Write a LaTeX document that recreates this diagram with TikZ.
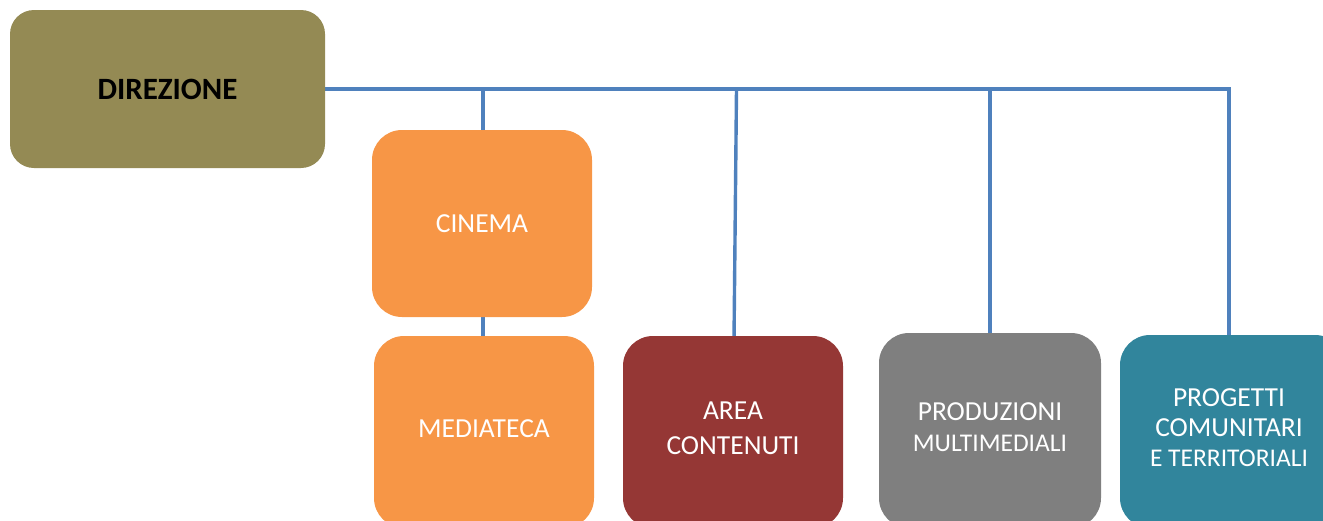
\documentclass[tikz,border=0pt]{standalone}
\usepackage{fontspec}
\setmainfont{Carlito}
\definecolor{olive}{HTML}{948A54}
\definecolor{orng}{HTML}{F79646}
\definecolor{dred}{HTML}{953735}
\definecolor{gry}{HTML}{7F7F7F}
\definecolor{teal2}{HTML}{31859C}
\definecolor{lineblue}{HTML}{4F81BD}
\begin{document}
\begin{tikzpicture}[x=1pt,y=-1pt,
  box/.style={draw=none, text=white, align=center, font=\fontsize{27.5}{32}\selectfont},
  conn/.style={draw=lineblue, line width=3.4pt}]
\useasboundingbox (0,0) rectangle (1323,520);
\clip (0,0) rectangle (1323,520);
% connectors first
\coordinate (hl) at (1229,89);
\draw[conn] (325,89) -- (hl) -- (1229,340);
\draw[conn] (483,89) -- (483,340);
\draw[conn] (736.5,89) -- (734,340);
\draw[conn] (990,89) -- (990,340);
% boxes
\fill[olive, rounded corners=24pt] (10,10) rectangle (325,168);
\node[font=\fontsize{31}{36}\selectfont\bfseries] (dir) at (167.5,89) {DIREZIONE};
\fill[orng, rounded corners=30pt] (372,130) rectangle (592,317);
\node[box] (cin) at (482,223.5) {CINEMA};
\fill[orng, rounded corners=30pt] (374,336) rectangle (594,528);
\node[box] (med) at (484,429) {MEDIATECA};
\fill[dred, rounded corners=30pt] (623,336) rectangle (843,528);
\node[box, font=\fontsize{27.5}{35}\selectfont] (area) at (733,428) {AREA\\CONTENUTI};
\fill[gry, rounded corners=30pt] (879,333) rectangle (1101,528);
\node[box, font=\fontsize{27.5}{31}\selectfont] (prod) at (990,427) {PRODUZIONI\\{\fontsize{25.5}{31}\selectfont MULTIMEDIALI}};
\fill[teal2, rounded corners=30pt] (1120,335) rectangle (1345,528);
\node[box, font=\fontsize{27.5}{30}\selectfont] (prog) at (1229,428) {PROGETTI\\COMUNITARI\\{\fontsize{25.5}{30}\selectfont E TERRITORIALI}};
\end{tikzpicture}
\end{document}
